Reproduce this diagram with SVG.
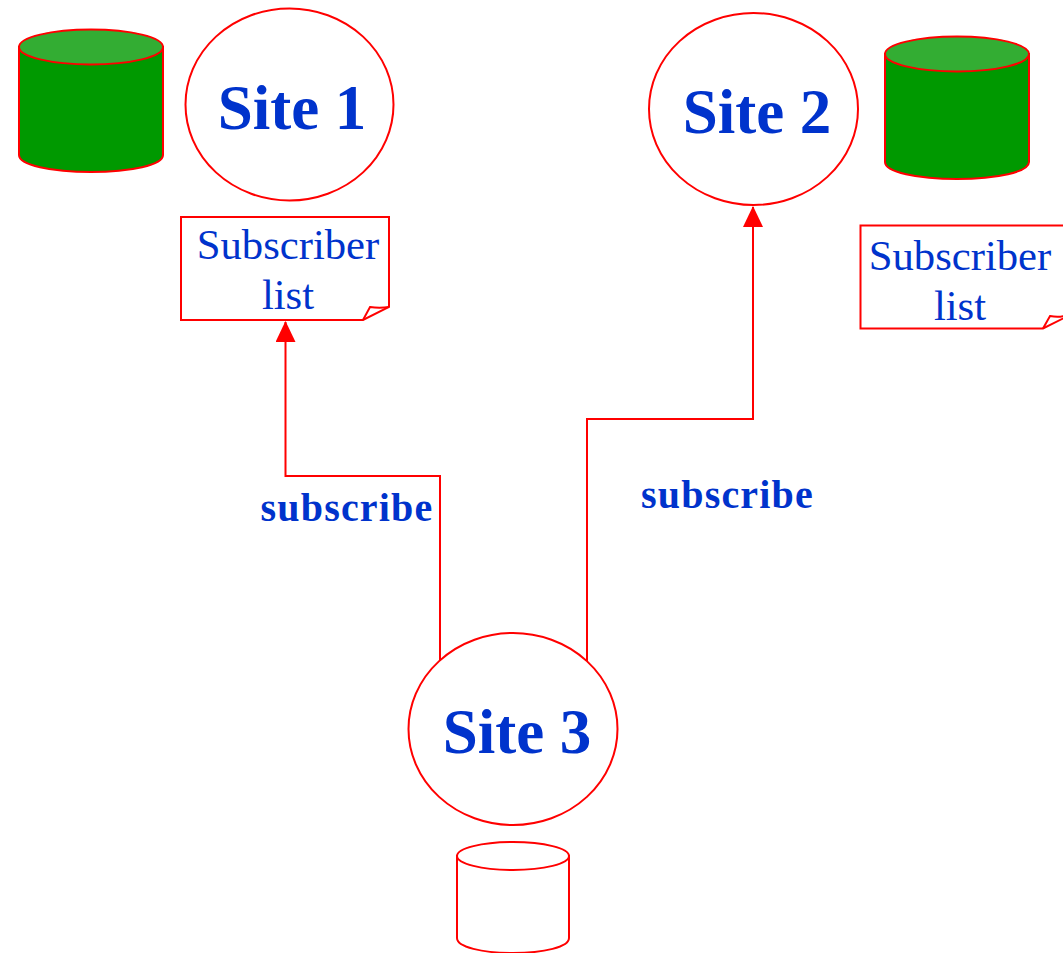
<svg xmlns="http://www.w3.org/2000/svg" width="1063" height="953" viewBox="0 0 1063 953">
<style>
.l{fill:none;stroke:#ff0000;stroke-width:2}
.w{fill:#fff;stroke:#ff0000;stroke-width:2}
.g{fill:#009900;stroke:#ff0000;stroke-width:2}
.t{fill:#33ad33;stroke:#ff0000;stroke-width:2}
text{font-family:"Liberation Serif","Times New Roman",serif;fill:#0033cc;text-anchor:middle}
.h{font-size:63px;font-weight:bold}
.s{font-size:42.700px}
.b{font-size:40px;font-weight:bold;letter-spacing:1.200px}
</style>
<defs>
<marker id="a" markerUnits="userSpaceOnUse" markerWidth="22" markerHeight="22" refX="20" refY="10" orient="auto" viewBox="0 0 22 22"><path d="M0 0L21 10L0 20Z" fill="#ff0000"/></marker>
</defs>
<g id="connectors">
<path class="l" d="M440 661V476H285.500V322" marker-end="url(#a)"/>
<path class="l" d="M587 661V419H753V207" marker-end="url(#a)"/>
<text class="b" x="347" y="521">subscribe</text>
<text class="b" x="727.500" y="508">subscribe</text>
</g>
<g id="db1">
<path class="g" d="M19 47V155C19 165 51 172 91 172C131 172 163 165 163 155V47Z"/>
<ellipse class="t" cx="91" cy="47" rx="72" ry="17.500"/>
</g>
<g id="site1">
<ellipse class="w" cx="289.500" cy="104.500" rx="104" ry="96"/>
<text class="h" x="292" y="128.500">Site 1</text>
</g>
<g id="list1">
<path class="w" d="M181 217H389V307L363 320H181Z"/>
<path class="l" d="M363 320L370 307C376 308 383 308 389 307"/>
<text class="s" x="288" y="258.500">Subscriber</text>
<text class="s" x="288" y="309">list</text>
</g>
<g id="site2">
<ellipse class="w" cx="753.500" cy="109" rx="104.500" ry="96"/>
<text class="h" x="757" y="133">Site 2</text>
</g>
<g id="db2">
<path class="g" d="M885 54V162C885 172 917 179 957 179C997 179 1029 172 1029 162V54Z"/>
<ellipse class="t" cx="957" cy="54" rx="72" ry="17.500"/>
</g>
<g id="list2">
<path class="w" d="M860.500 225.500H1070V315L1043 328.500H860.500Z"/>
<path class="l" d="M1043 328.500L1050 316C1055 317 1060 317 1064 316"/>
<text class="s" x="960" y="269.500">Subscriber</text>
<text class="s" x="960" y="320">list</text>
</g>
<g id="site3">
<ellipse class="w" cx="513" cy="729" rx="104.500" ry="96"/>
<text class="h" x="517" y="753">Site 3</text>
</g>
<g id="db3">
<path class="w" d="M457 856V938C457 947 482 953 513 953C544 953 569 947 569 938V856Z"/>
<ellipse class="w" cx="513" cy="856" rx="56" ry="14"/>
</g>
</svg>
